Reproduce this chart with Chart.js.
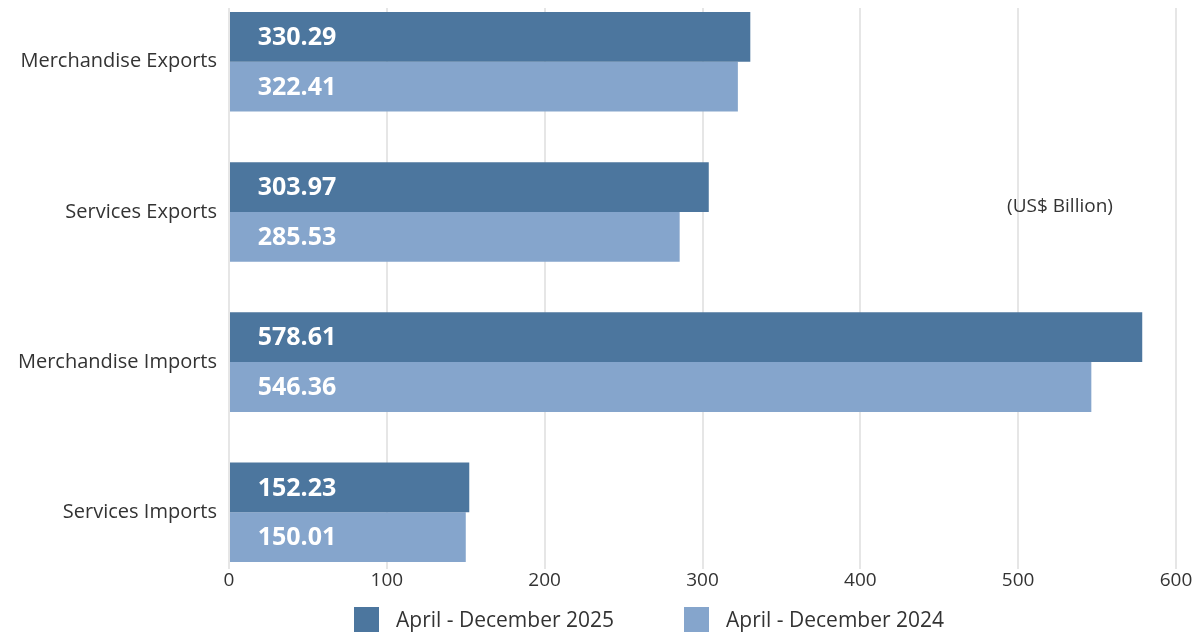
<!DOCTYPE html>
<html lang="en">
<head>
<meta charset="UTF-8">
<title>Trade: April - December</title>
<script src="https://cdn.jsdelivr.net/npm/chart.js@4.4.1/dist/chart.umd.min.js"></script>
<style>
  html, body { margin: 0; padding: 0; background: #fff; }
  .wrap { position: relative; width: 1202px; height: 633px; }
  .legend {
    position: absolute; left: 354px; top: 605px;
    display: flex; align-items: center;
    font: 21px "Open Sans", sans-serif; color: #333;
  }
  .legend .item { display: flex; align-items: center; margin-right: 70px; }
  .legend .box { width: 25px; height: 25px; margin-right: 17px; }
</style>
</head>
<body>
<div class="wrap">
  <canvas id="chart" width="1202" height="633"></canvas>
  <div class="legend" id="legend"></div>
</div>
<script>
// data
const categories = ['Merchandise Exports', 'Services Exports', 'Merchandise Imports', 'Services Imports'];
const seriesNames = ['April - December 2025', 'April - December 2024'];
const values2025 = [330.29, 303.97, 578.61, 152.23];
const values2024 = [322.41, 285.53, 546.36, 150.01];
const xTicks = [0, 100, 200, 300, 400, 500, 600];
const unitText = '(US$ Billion)';

const colors = ['#4c769e', '#85a5cc'];
const textColor = '#333';
const fontFamily = '"Open Sans"';

function points(vals) {
  return vals.map((v, i) => ({ x: v, y: i }));
}

// white value labels inside the bars
const valueLabels = {
  id: 'valueLabels',
  afterDatasetsDraw(chart) {
    const ctx = chart.ctx;
    ctx.save();
    ctx.font = 'bold 25px ' + fontFamily;
    ctx.fillStyle = '#fff';
    ctx.textAlign = 'center';
    ctx.textBaseline = 'middle';
    chart.data.datasets.forEach((ds, di) => {
      chart.getDatasetMeta(di).data.forEach((bar, i) => {
        ctx.fillText(ds.data[i].x.toFixed(2), bar.base + 67, bar.y + 1);
      });
    });
    ctx.restore();
  }
};

// units note on the right
const unitNote = {
  id: 'unitNote',
  afterDraw(chart) {
    const ctx = chart.ctx;
    ctx.save();
    ctx.font = '19px ' + fontFamily;
    ctx.fillStyle = textColor;
    ctx.textAlign = 'center';
    ctx.textBaseline = 'middle';
    ctx.fillText(unitText, 1060, 207);
    ctx.restore();
  }
};

new Chart(document.getElementById('chart'), {
  type: 'bar',
  data: {
    datasets: [
      { label: seriesNames[0], data: points(values2025), backgroundColor: colors[0] },
      { label: seriesNames[1], data: points(values2024), backgroundColor: colors[1] }
    ]
  },
  options: {
    indexAxis: 'y',
    responsive: false,
    animation: false,
    categoryPercentage: 0.663,
    barPercentage: 1,
    layout: { padding: { top: 8, right: 26, bottom: 41, left: 0 } },
    plugins: {
      legend: { display: false },
      tooltip: { enabled: false }
    },
    scales: {
      x: {
        min: 0,
        max: 600,
        afterBuildTicks: (s) => { s.ticks = xTicks.map(v => ({ value: v })); },
        grid: { color: '#e6e6e6', lineWidth: 2, drawTicks: false },
        border: { display: false },
        ticks: { color: textColor, font: { family: fontFamily, size: 19 }, padding: 0 }
      },
      y: {
        type: 'linear',
        reverse: true,
        offset: false,
        min: -0.358,
        max: 3.379,
        afterBuildTicks: (s) => { s.ticks = categories.map((c, i) => ({ value: i })); },
        afterFit: (s) => { s.width = 229; s.paddingTop = 0; s.paddingBottom = 0; },
        grid: { display: false, drawTicks: false },
        border: { display: false },
        ticks: {
          color: textColor,
          font: { family: fontFamily, size: 20 },
          padding: 12,
          callback: (v) => categories[v]
        }
      }
    }
  },
  plugins: [valueLabels, unitNote]
});

// legend
const legend = document.getElementById('legend');
seriesNames.forEach((name, i) => {
  const item = document.createElement('div');
  item.className = 'item';
  item.innerHTML = '<span class="box" style="background:' + colors[i] + '"></span>' + name;
  legend.appendChild(item);
});
</script>
</body>
</html>
